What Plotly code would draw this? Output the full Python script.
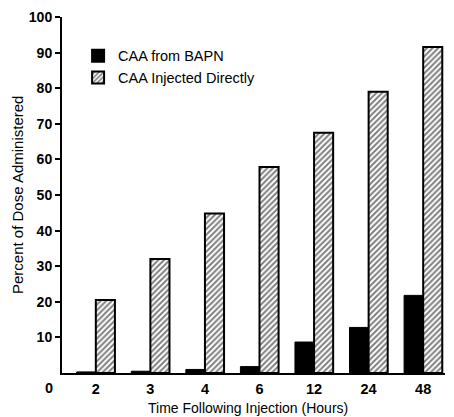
import plotly.graph_objects as go

hours = ["2", "3", "4", "6", "12", "24", "48"]
caa_from_bapn = [0.3, 0.5, 1.0, 1.8, 8.7, 12.8, 21.8]
caa_injected_directly = [20.5, 32.0, 44.8, 57.9, 67.5, 79.0, 91.6]
y_ticks = [10, 20, 30, 40, 50, 60, 70, 80, 90, 100]

FONT = "Liberation Sans, Arial, Helvetica, sans-serif"

fig = go.Figure()
fig.add_trace(go.Bar(
    x=hours, y=caa_from_bapn, name="CAA from BAPN",
    marker=dict(color="black", line=dict(color="black", width=1)),
))
fig.add_trace(go.Bar(
    x=hours, y=caa_injected_directly, name="CAA Injected Directly",
    marker=dict(color="white",
                pattern=dict(shape="/", fgcolor="black", bgcolor="white", size=4, solidity=0.5),
                line=dict(color="black", width=2)),
))

fig.update_layout(
    width=446, height=409,
    margin=dict(l=54, r=9, t=9, b=44, autoexpand=False),
    paper_bgcolor="white", plot_bgcolor="white",
    barmode="group", bargap=0.3, bargroupgap=0,
    font=dict(family=FONT, color="black", size=12),
    showlegend=True,
    legend=dict(x=0.042, y=0.936, xanchor="left", yanchor="top",
                font=dict(size=14.5, family=FONT, color="black"),
                bgcolor="rgba(0,0,0,0)", tracegroupgap=1, itemsizing="constant",
                itemwidth=30),
    xaxis=dict(type="category", range=[-0.62, 6.4], showline=True, linecolor="black",
               linewidth=2, ticks="", showgrid=False, zeroline=False, automargin=False,
               ticklabelstandoff=2,
               tickfont=dict(size=14.5, family=FONT, color="black", weight="bold")),
    yaxis=dict(range=[0, 100], tickvals=y_ticks, showline=True, linecolor="black",
               linewidth=2, ticks="outside", ticklen=5, tickwidth=1.5, tickcolor="black",
               showgrid=False, zeroline=False, automargin=False,
               tickfont=dict(size=14, family=FONT, color="black", weight="bold")),
)
fig.add_annotation(text="0", xref="paper", x=-0.034, yref="y", y=0, yshift=-15,
                   yanchor="middle", xanchor="center",
                   showarrow=False, font=dict(size=14.5, family=FONT, color="black", weight="bold"))
fig.add_annotation(text="Time Following Injection (Hours)", xref="paper", x=0.485,
                   xanchor="center", yref="paper", y=0, yshift=-35, yanchor="middle",
                   showarrow=False, font=dict(size=14, family=FONT, color="black"))
fig.add_annotation(text="Percent of Dose Administered", xref="paper", x=0, xshift=-45,
                   xanchor="center", yref="paper", y=0.5, yanchor="middle",
                   textangle=-90, showarrow=False,
                   font=dict(size=15, family=FONT, color="black"))

fig.write_html("out.html")
